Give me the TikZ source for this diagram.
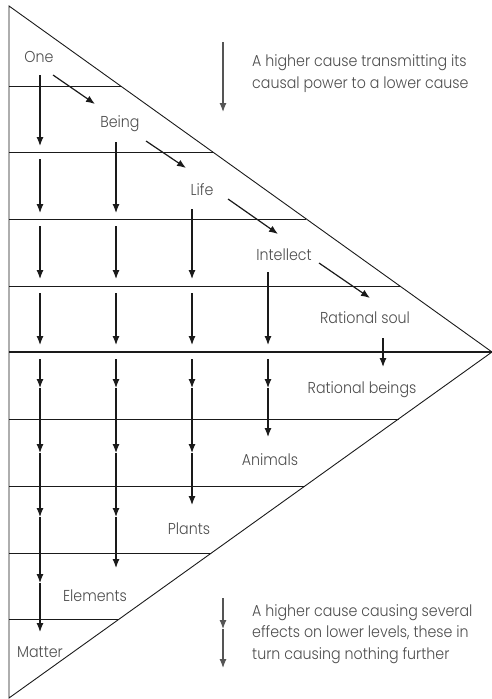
\documentclass[tikz,border=0pt]{standalone}
\usepackage{fontspec}
\setmainfont{Poppins}[UprightFont={* Light}, FakeStretch=0.9]
\usetikzlibrary{arrows.meta}
\definecolor{linecol}{HTML}{1A1A1A}
\definecolor{txtgray}{HTML}{4D4D4D}
\definecolor{leggray}{HTML}{555555}
\begin{document}
\begin{tikzpicture}[x=1pt,y=-1pt,
  lbl/.style={text=txtgray, font=\fontsize{15.8}{21}\selectfont, inner sep=0pt, anchor=base},
  legtxt/.style={text=txtgray, font=\fontsize{15.8}{21.5}\selectfont, inner sep=0pt, anchor=base west, align=left},
  arr/.style={-{Latex[length=9pt,width=7pt]}, line width=1.2pt, draw=linecol},
  legarr/.style={-{Latex[length=9pt,width=7pt]}, line width=1.2pt, draw=leggray},
  edge/.style={line width=0.9pt, draw=linecol},
  axis/.style={line width=1.7pt, draw=linecol}]
\useasboundingbox (0,0) rectangle (492,699);
% triangle
\coordinate (T) at (9,6);
\coordinate (R) at (492,352);
\coordinate (B) at (9,698);
\draw[edge] (T) -- (R) -- (B) -- cycle;
% level lines
\foreach \y/\xe in {86/120.7,152/212.8,219/306.3,286/399.9,419/398.5,486/305,553/211.4,619/119.3}
  \draw[edge] (9,\y) -- (\xe,\y);
\draw[axis] (9,352) -- (R);
% labels
\node[lbl] (one) at (39,62) {One};
\node[lbl] (being) at (120,127) {Being};
\node[lbl] (life) at (202,195) {Life};
\node[lbl] (intellect) at (284,260) {Intellect};
\node[lbl] (rsoul) at (365,323) {Rational soul};
\node[lbl] (rbeings) at (362,393) {Rational beings};
\node[lbl] (animals) at (270,465) {Animals};
\node[lbl] (plants) at (189,534) {Plants};
\node[lbl] (elements) at (95,601) {Elements};
\node[lbl] (matter) at (40,657) {Matter};
% diagonal transmission arrows
\coordinate (d1a) at (53,75);   \coordinate (d1b) at (95,104);
\coordinate (d2a) at (146,141); \coordinate (d2b) at (186,168);
\coordinate (d3a) at (228,199); \coordinate (d3b) at (278,234);
\coordinate (d4a) at (319,263); \coordinate (d4b) at (370,298);
\draw[arr] (d1a) -- (d1b);
\draw[arr] (d2a) -- (d2b);
\draw[arr] (d3a) -- (d3b);
\draw[arr] (d4a) -- (d4b);
% vertical arrows above the axis
\draw[arr] (40,75) -- (40,146);
\foreach \x in {40} \draw[arr] (\x,159) -- (\x,213);
\draw[arr] (116,142) -- (116,213);
\foreach \x in {40,116} \draw[arr] (\x,226) -- (\x,279);
\draw[arr] (192,209) -- (192,279);
\foreach \x in {40,116,192} \draw[arr] (\x,293) -- (\x,345);
\draw[arr] (268,272) -- (268,345);
\draw[arr] (383,338) -- (383,367);
% vertical arrows below the axis
\foreach \x in {40,116,192,268} \draw[arr] (\x,359) -- (\x,388);
\draw[arr] (268,388) -- (268,437);
\foreach \x in {40,116,192} \draw[arr] (\x,388) -- (\x,453);
\draw[arr] (192,453) -- (192,505);
\foreach \x in {40,116} \draw[arr] (\x,453) -- (\x,517);
\draw[arr] (116,517) -- (116,568);
\draw[arr] (40,517) -- (40,583);
\draw[arr] (40,583) -- (40,632);
% legend
\coordinate (la) at (223,42);
\coordinate (lb) at (223,112);
\draw[legarr] (la) -- (lb);
\node[legtxt] (leg1) at (252,88) {A higher cause transmitting its\\causal power to a lower cause};
\coordinate (lc) at (223,598);
\coordinate (ld) at (223,629);
\coordinate (le) at (223,668);
\draw[legarr] (lc) -- (ld);
\draw[legarr] (ld) -- (le);
\node[legtxt] (leg2) at (252,659) {A higher cause causing several\\effects on lower levels, these in\\turn causing nothing further};
\end{tikzpicture}
\end{document}
